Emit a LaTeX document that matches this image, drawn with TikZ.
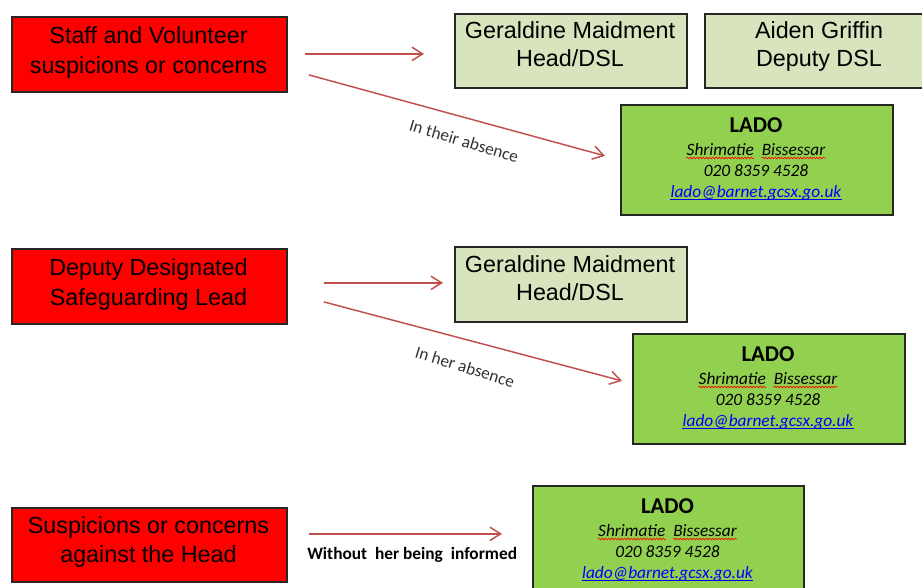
\documentclass[tikz,border=0pt]{standalone}
\usepackage{fontspec}
\usetikzlibrary{arrows.meta,calc,decorations.pathmorphing}
\newfontfamily\arialf{Liberation Sans}
\newfontfamily\calf{Carlito}
\definecolor{boxred}{HTML}{FF0000}
\definecolor{palegreen}{HTML}{D7E4BD}
\definecolor{ladogreen}{HTML}{92D050}
\definecolor{arrowred}{HTML}{C0504D}
\definecolor{linkblue}{HTML}{0000FF}
\definecolor{edgegray}{HTML}{262626}
\tikzset{
  box/.style={draw=edgegray, line width=1.3pt, anchor=north west, inner sep=0pt},
  redbox/.style={box, fill=boxred},
  palebox/.style={box, fill=palegreen},
  ladobox/.style={box, fill=ladogreen},
  bigtxt/.style={anchor=base, inner sep=0pt, font=\arialf\fontsize{17.5}{21}\selectfont},
  ladotitle/.style={anchor=base, inner sep=0pt, font=\calf\bfseries\fontsize{17}{20}\selectfont},
  ladotxt/.style={anchor=base, inner sep=0pt, font=\calf\itshape\fontsize{13}{16}\selectfont},
  squig/.style={draw=red, line width=0.5pt, decorate, decoration={snake, amplitude=0.6pt, segment length=2.4pt}},
  flow/.style={draw=arrowred, line width=1.1pt, -{Straight Barb[length=8pt,width=10pt,line width=1.1pt]}},
  note/.style={inner sep=0pt, font=\calf\fontsize{13}{16}\selectfont, text=black!80},
}
\newcommand\twolines[6]{%
  \node[bigtxt] (#1a) at (#2,#3) {#5};
  \node[bigtxt] (#1b) at (#2,{#3+#4}) {#6};}
\newcommand\ladoblock[4]{% name, left x, top y, width
  \node[ladobox, minimum width=#4*0.75pt, minimum height=110*0.75pt] (#1) at (#2,#3) {};
  \node[ladotitle] (#1t) at ({#2+#4/2},{#3+28}) {LADO};
  \node[ladotxt] (#1n) at ({#2+#4/2},{#3+51}) {Shrimatie\ \ Bissessar};
  \node[ladotxt, anchor=base west] (#1w) at (#1n.base west) {\phantom{Shrimatie}};
  \node[ladotxt, anchor=base east] (#1v) at (#1n.base east) {\phantom{Bissessar}};
  \draw[squig] ($(#1w.base west)+(0,3)$) -- ($(#1w.base east)+(0,3)$);
  \draw[squig] ($(#1v.base west)+(0,3)$) -- ($(#1v.base east)+(0,3)$);
  \node[ladotxt] (#1p) at ({#2+#4/2},{#3+72}) {020 8359 4528};
  \node[ladotxt, text=linkblue] (#1e) at ({#2+#4/2},{#3+93}) {lado@barnet.gcsx.go.uk};
  \draw[linkblue, line width=0.8pt] ($(#1e.base west)+(0,2.5)$) -- ($(#1e.base east)+(0,2.5)$);}
\begin{document}
\begin{tikzpicture}[x=0.75pt, y=-0.75pt]
\useasboundingbox (0,0) rectangle (922,587);
\clip (0,0) rectangle (922,587);
% row 1
\node[redbox, minimum width=275*0.75pt, minimum height=75*0.75pt] (r1) at (11,16) {};
\twolines{r1t}{148.5}{43}{30}{Staff and Volunteer}{suspicions or concerns}
\node[palebox, minimum width=232*0.75pt, minimum height=74*0.75pt] (g1) at (454,13) {};
\twolines{g1t}{570}{38}{28}{Geraldine Maidment}{Head/DSL}
\node[palebox, minimum width=250*0.75pt, minimum height=74*0.75pt] (a1) at (704,13) {};
\twolines{a1t}{819}{38}{28}{Aiden Griffin}{Deputy DSL}
\ladoblock{l1}{620}{104}{272}
\draw[flow] ($(r1.east)+(17,-0.5)$) -- ($(g1.west)+(-30,3)$);
\draw[flow] ($(r1.east)+(21,20.5)$) -- ($(l1.west)+(-15,-4)$);
\node[note, rotate=-16.5] (n1) at (464,141) {In their absence};
% row 2
\node[redbox, minimum width=275*0.75pt, minimum height=75*0.75pt] (r2) at (11,248) {};
\twolines{r2t}{148.5}{275}{30}{Deputy Designated}{Safeguarding Lead}
\node[palebox, minimum width=232*0.75pt, minimum height=75*0.75pt] (g2) at (454,246) {};
\twolines{g2t}{570}{272}{28}{Geraldine Maidment}{Head/DSL}
\ladoblock{l2}{632}{333}{272}
\draw[flow] ($(r2.east)+(36,-3.5)$) -- ($(g2.west)+(-11,-1.5)$);
\draw[flow] ($(r2.east)+(36,15.5)$) -- ($(l2.west)+(-10,-8)$);
\node[note, rotate=-17] (n2) at (465,367) {In her absence};
% row 3
\node[redbox, minimum width=275*0.75pt, minimum height=74*0.75pt] (r3) at (11,507) {};
\twolines{r3t}{148.5}{533}{29}{Suspicions or concerns}{against the Head}
\ladoblock{l3}{532}{485}{271}
\draw[flow] ($(r3.east)+(21,-11)$) -- ($(l3.west)+(-30,-7)$);
\node[note, font=\calf\bfseries\fontsize{13}{16}\selectfont, text=black, anchor=base west] (n3) at (307,559) {Without\ \ her being\ \ informed};
\end{tikzpicture}
\end{document}
